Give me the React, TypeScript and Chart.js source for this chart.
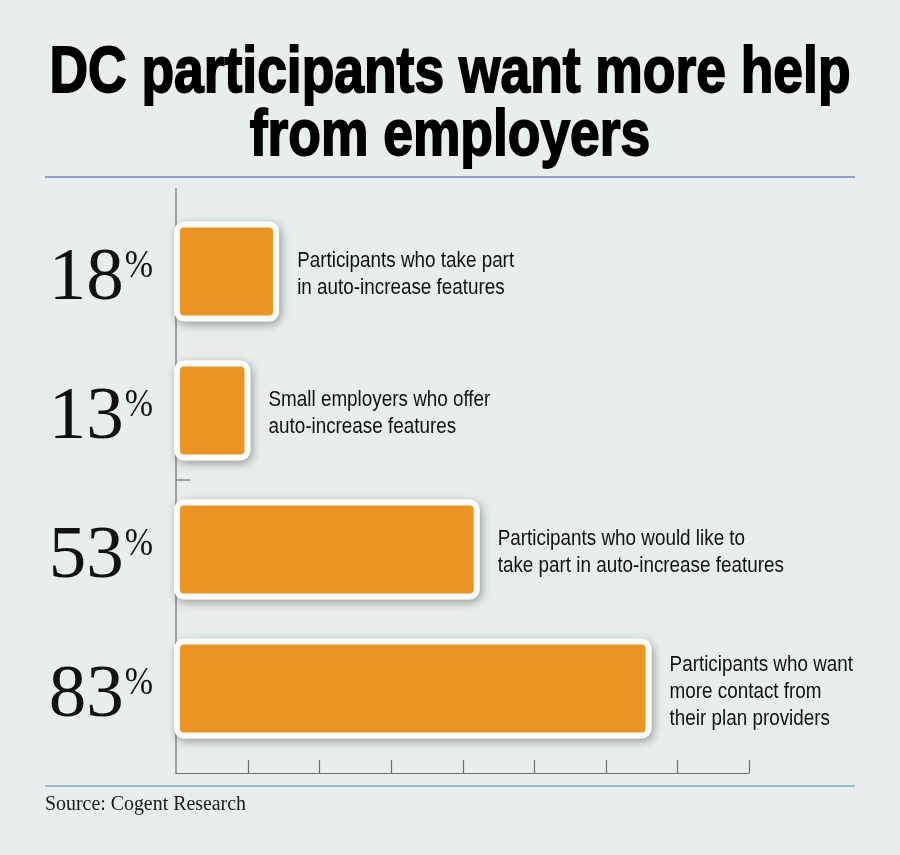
import React, { useEffect, useRef } from "react";
import { Chart, registerables } from "chart.js";

Chart.register(...registerables);

// ---- data ----
const categories = ["Take part in auto-increase", "Small employers offer auto-increase", "Would like auto-increase", "Want more contact"];
const values = [18, 13, 53, 83];
const labelLines = [
  ["Participants who take part", "in auto-increase features"],
  ["Small employers who offer", "auto-increase features"],
  ["Participants who would like to", "take part in auto-increase features"],
  ["Participants who want", "more contact from", "their plan providers"],
];
const xTicks = [12.5, 25, 37.5, 50, 62.5, 75, 87.5, 100];
const titleLines = ["DC participants want more help", "from employers"];
const sourceText = "Source: Cogent Research";

const BG = "#e8eded";
const ORANGE = "#e99425";

const decoPlugin = {
  id: "deco",
  beforeDraw(chart: any) {
    const ctx = chart.ctx as CanvasRenderingContext2D;
    ctx.save();
    ctx.fillStyle = BG;
    ctx.fillRect(0, 0, chart.width, chart.height);

    // title
    ctx.fillStyle = "#000";
    ctx.strokeStyle = "#000";
    ctx.font = "bold 65px 'Liberation Sans', Arial, sans-serif";
    ctx.textBaseline = "alphabetic";
    ctx.textAlign = "center";
    const w1 = ctx.measureText(titleLines[0]).width;
    const s = 801 / w1;
    const baselines = [92, 155];
    titleLines.forEach((t, i) => {
      ctx.save();
      ctx.translate(450, baselines[i]);
      ctx.scale(s, 1);
      ctx.fillText(t, 0, 0);
      ctx.lineWidth = 1.8;
      ctx.strokeText(t, 0, 0);
      ctx.restore();
    });

    // rules
    ctx.strokeStyle = "#7489bb";
    ctx.lineWidth = 1.5;
    ctx.beginPath();
    ctx.moveTo(45, 177);
    ctx.lineTo(855, 177);
    ctx.stroke();

    ctx.strokeStyle = "#9dbdc6";
    ctx.lineWidth = 2;
    ctx.beginPath();
    ctx.moveTo(45, 786);
    ctx.lineTo(855, 786);
    ctx.stroke();

    // source
    ctx.fillStyle = "#1a1a1a";
    ctx.font = "20px 'Liberation Serif', 'Times New Roman', serif";
    ctx.textAlign = "left";
    const sw = ctx.measureText(sourceText).width;
    ctx.save();
    ctx.translate(45, 810);
    ctx.scale(201 / sw, 1);
    ctx.fillText(sourceText, 0, 0);
    ctx.restore();
    ctx.restore();
  },
  beforeDatasetsDraw(chart: any) {
    const ctx = chart.ctx as CanvasRenderingContext2D;
    const xs = chart.scales.x;
    const ys = chart.scales.y;
    const x0 = xs.getPixelForValue(0);
    const yBottom = 773.5;
    ctx.save();
    ctx.strokeStyle = "#707070";
    ctx.lineWidth = 1.2;
    ctx.beginPath();
    ctx.moveTo(x0, 188);
    ctx.lineTo(x0, yBottom);
    ctx.lineTo(xs.getPixelForValue(100), yBottom);
    ctx.stroke();
    xTicks.forEach((v) => {
      const px = Math.round(xs.getPixelForValue(v)) + 0.5;
      ctx.beginPath();
      ctx.moveTo(px, yBottom);
      ctx.lineTo(px, 760);
      ctx.stroke();
    });
    const ym = (ys.getPixelForValue(1) + ys.getPixelForValue(2)) / 2;
    ctx.beginPath();
    ctx.moveTo(x0, ym);
    ctx.lineTo(x0 + 14, ym);
    ctx.stroke();

    // shadows
    const meta = chart.getDatasetMeta(0);
    meta.data.forEach((el: any) => {
      const left = Math.min(el.base, el.x);
      const w = Math.abs(el.x - el.base);
      const top = el.y - el.height / 2;
      ctx.save();
      ctx.shadowColor = "rgba(0,0,0,0.35)";
      ctx.shadowBlur = 10;
      ctx.shadowOffsetX = 2;
      ctx.shadowOffsetY = 3;
      ctx.fillStyle = "#fdfcf8";
      ctx.beginPath();
      (ctx as any).roundRect(left, top, w, el.height, 10);
      ctx.fill();
      ctx.restore();
    });
    ctx.restore();
  },
  afterDatasetsDraw(chart: any) {
    const ctx = chart.ctx as CanvasRenderingContext2D;
    const meta = chart.getDatasetMeta(0);
    ctx.save();
    ctx.fillStyle = "#111";
    ctx.textBaseline = "alphabetic";

    // percentage labels
    meta.data.forEach((el: any, i: number) => {
      const cy = el.y;
      ctx.font = "40px 'Liberation Serif', 'Times New Roman', serif";
      ctx.textAlign = "left";
      const pScale = 0.85;
      const pw = ctx.measureText("%").width * pScale;
      ctx.save();
      ctx.translate(153 - pw, cy + 5);
      ctx.scale(pScale, 1);
      ctx.fillText("%", 0, 0);
      ctx.restore();
      ctx.font = "75px 'Liberation Serif', 'Times New Roman', serif";
      ctx.textAlign = "right";
      ctx.fillText(String(values[i]), 153 - pw - 1, cy + 27);
    });

    // descriptive labels
    ctx.font = "22px 'Liberation Sans', Arial, sans-serif";
    ctx.textAlign = "left";
    const ls = 217 / ctx.measureText(labelLines[0][0]).width;
    const lh = 27;
    meta.data.forEach((el: any, i: number) => {
      const lines = labelLines[i];
      const x = el.x + 18;
      const first = el.y - ((lines.length - 1) * lh) / 2 + 9;
      lines.forEach((t, j) => {
        ctx.save();
        ctx.translate(x, first + j * lh);
        ctx.scale(ls, 1);
        ctx.fillText(t, 0, 0);
        ctx.restore();
      });
    });
    ctx.restore();
  },
};

export default function App() {
  const ref = useRef<HTMLCanvasElement | null>(null);
  useEffect(() => {
    if (!ref.current) return;
    const chart = new Chart(ref.current, {
      type: "bar",
      data: {
        labels: categories,
        datasets: [
          {
            data: values,
            backgroundColor: ORANGE,
            borderColor: "#fdfcf8",
            borderWidth: 6,
            borderRadius: 10,
            borderSkipped: false,
            base: -0.35,
            barPercentage: 0.72,
            categoryPercentage: 1,
          } as any,
        ],
      },
      options: {
        indexAxis: "y",
        animation: false,
        responsive: false,
        devicePixelRatio: 1,
        layout: { padding: { left: 176, right: 151, top: 202, bottom: 97 } },
        plugins: { legend: { display: false }, tooltip: { enabled: false }, title: { display: false } },
        scales: {
          x: { type: "linear", min: 0, max: 100, display: false },
          y: { type: "category", display: false, offset: true },
        },
      },
      plugins: [decoPlugin],
    });
    return () => chart.destroy();
  }, []);
  return (
    <div style={{ position: "absolute", left: 0, top: 0, width: 900, height: 855, background: BG }}>
      <canvas ref={ref} width={900} height={855} style={{ display: "block" }} />
    </div>
  );
}
